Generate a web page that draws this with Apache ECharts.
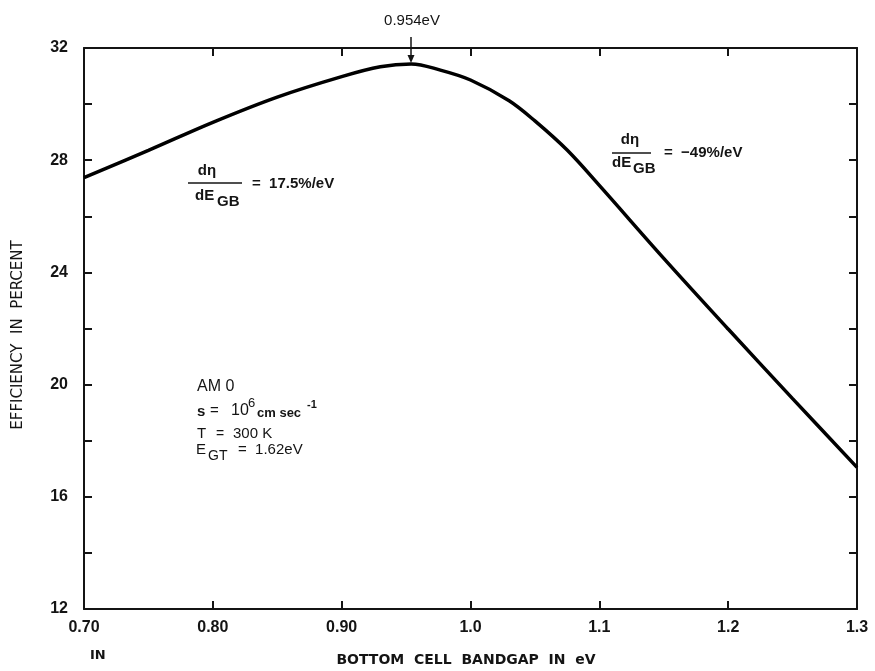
<!DOCTYPE html>
<html>
<head>
<meta charset="utf-8">
<script src="https://cdn.jsdelivr.net/npm/echarts@6/dist/echarts.min.js"></script>
<style>
html,body{margin:0;padding:0;background:#fff;}
#chart{width:875px;height:671px;}
</style>
</head>
<body>
<div id="chart"></div>
<script>
// ---- data ----
const bandgap = [0.70, 0.75, 0.80, 0.85, 0.90, 0.93, 0.954, 0.976, 1.00, 1.03, 1.05, 1.075, 1.10, 1.15, 1.20, 1.25, 1.30];
const efficiency = [27.38, 28.35, 29.35, 30.25, 30.98, 31.33, 31.43, 31.22, 30.86, 30.12, 29.40, 28.36, 27.10, 24.50, 21.98, 19.50, 17.05];
const xTickLabels = ['0.70', '0.80', '0.90', '1.0', '1.1', '1.2', '1.3'];
const yTickLabels = ['12', '16', '20', '24', '28', '32'];
const peakX = 0.954;
const peakY = 31.43;

const FONT = 'Liberation Sans';
const INK = '#141414';

const chart = echarts.init(document.getElementById('chart'), null, {renderer: 'canvas'});

const xLabelFmt = v => {
  const i = Math.round((v - 0.7) / 0.1);
  return xTickLabels[i] !== undefined ? xTickLabels[i] : '';
};
const yLabelFmt = v => {
  const r = Math.round(v);
  if (r % 4 !== 0) return '';
  return yTickLabels[(r - 12) / 4] || '';
};

const axisLine = {show: true, lineStyle: {color: INK, width: 2}};
const tickStyle = {show: true, inside: true, length: 8, lineStyle: {color: INK, width: 2}};

chart.setOption({
  animation: false,
  backgroundColor: '#ffffff',
  grid: {left: 84, right: 18, top: 48, bottom: 62, containLabel: false},
  xAxis: [
    {
      type: 'value', min: 0.7, max: 1.3, interval: 0.1, position: 'bottom',
      axisLine: axisLine, axisTick: tickStyle, splitLine: {show: false},
      axisLabel: {formatter: xLabelFmt, margin: 11, fontFamily: FONT, fontSize: 16, fontWeight: 'bold', color: INK}
    },
    {
      type: 'value', min: 0.7, max: 1.3, interval: 0.1, position: 'top',
      axisLine: axisLine, axisTick: tickStyle, splitLine: {show: false},
      axisLabel: {show: false}
    }
  ],
  yAxis: [
    {
      type: 'value', min: 12, max: 32, interval: 2, position: 'left',
      axisLine: axisLine, axisTick: tickStyle, splitLine: {show: false},
      axisLabel: {formatter: yLabelFmt, margin: 16, fontFamily: FONT, fontSize: 16, fontWeight: 'bold', color: INK}
    },
    {
      type: 'value', min: 12, max: 32, interval: 2, position: 'right',
      axisLine: axisLine, axisTick: tickStyle, splitLine: {show: false},
      axisLabel: {show: false}
    }
  ],
  series: [{
    type: 'line',
    xAxisIndex: 0, yAxisIndex: 0,
    data: bandgap.map((x, i) => [x, efficiency[i]]),
    smooth: 0.35,
    showSymbol: false,
    symbol: 'none',
    lineStyle: {color: '#000', width: 3.5},
    silent: true
  }]
});

const p = chart.convertToPixel({xAxisIndex: 0, yAxisIndex: 0}, [peakX, peakY]);
const ax = Math.round(p[0]);
const ay = p[1];

function txt(x, y, s, size, opts) {
  opts = opts || {};
  return {
    type: 'text', x: x, y: y, silent: true,
    rotation: opts.rotation || 0,
    style: {
      text: s, fill: INK,
      font: (opts.italic ? 'italic ' : '') + (opts.bold ? 'bold ' : '') + size + 'px ' + (opts.family || FONT),
      textAlign: opts.align || 'left',
      textVerticalAlign: 'middle',
      verticalAlign: 'middle',
      align: opts.align || 'left'
    }
  };
}

const g = [];
// peak arrow and label
g.push({type: 'line', silent: true, shape: {x1: ax, y1: 37, x2: ax, y2: ay - 6}, style: {stroke: INK, lineWidth: 1.5}});
g.push({type: 'polygon', silent: true, shape: {points: [[ax - 3.5, ay - 9], [ax + 3.5, ay - 9], [ax, ay - 1]]}, style: {fill: INK}});
g.push(txt(ax + 1, 21, '0.954eV', 15, {align: 'center'}));

// left slope annotation
g.push(txt(207, 171, 'd\u03b7', 15, {align: 'center', bold: true}));
g.push({type: 'line', silent: true, shape: {x1: 188, y1: 183, x2: 242, y2: 183}, style: {stroke: INK, lineWidth: 1.5}});
g.push(txt(195, 196, 'dE', 15, {bold: true}));
g.push(txt(217, 202, 'GB', 15, {bold: true}));
g.push(txt(252, 184, '=  17.5%/eV', 15, {bold: true}));

// right slope annotation
g.push(txt(630, 140, 'd\u03b7', 15, {align: 'center', bold: true}));
g.push({type: 'line', silent: true, shape: {x1: 612, y1: 153, x2: 651, y2: 153}, style: {stroke: INK, lineWidth: 1.5}});
g.push(txt(612, 163, 'dE', 15, {bold: true}));
g.push(txt(633, 169, 'GB', 15, {bold: true}));
g.push(txt(664, 153, '=  \u221249%/eV', 15, {bold: true}));

// conditions block
g.push(txt(197, 387, 'AM 0', 16));
g.push(txt(197, 412, 's', 15, {bold: true}));
g.push(txt(210, 411, '=', 15));
g.push(txt(231, 411, '10', 16));
g.push(txt(248, 403, '6', 13));
g.push(txt(257, 413, 'cm sec', 13, {bold: true}));
g.push(txt(307, 405, '-1', 11, {bold: true}));
g.push(txt(197, 434, 'T', 15));
g.push(txt(216, 434, '=', 14));
g.push(txt(233, 434, '300 K', 15));
g.push(txt(196, 450, 'E', 15));
g.push(txt(208, 456, 'GT', 14));
g.push(txt(238, 450, '=  1.62eV', 15));

// axis titles
g.push(txt(18, 335, 'EFFICIENCY  IN  PERCENT', 15, {align: 'center', rotation: Math.PI / 2, family: 'DejaVu Sans'}));
g.push(txt(466, 660, 'BOTTOM  CELL  BANDGAP  IN  eV', 14, {align: 'center', bold: true, family: 'DejaVu Sans'}));
g.push(txt(90, 656, 'IN', 13, {bold: true, family: 'DejaVu Sans'}));

chart.setOption({graphic: g});
</script>
</body>
</html>
